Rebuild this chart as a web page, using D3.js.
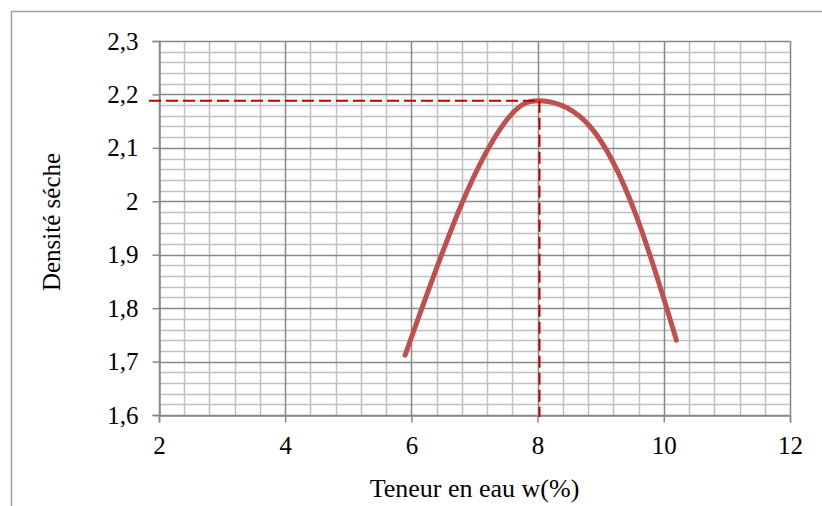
<!DOCTYPE html>
<html>
<head>
<meta charset="utf-8">
<script src="https://cdn.jsdelivr.net/npm/d3@7"></script>
<style>
	body { margin: 0; background: #fff; }
	svg { display: block; }
	svg text { font-family: "Liberation Serif", "Times New Roman", serif; fill: #000; }
</style>
</head>
<body>
<div class="chart"></div>
<script>

var teneur = [5.9, 6.8, 7.51, 8.05, 8.83, 9.57, 10.2];
var densite = [1.712, 1.996, 2.152, 2.188, 2.14, 1.971, 1.74];
var xTicks = [2, 4, 6, 8, 10, 12];
var yTicks = [1.6, 1.7, 1.8, 1.9, 2.0, 2.1, 2.2, 2.3];
var optimum = { w: 8.03, d: 2.188 };

var chart = (function() {

	var width = 822, height = 506;
	var left = 159, right = 790, top = 41, bottom = 415;

	var svg, x, y;

	var init = function() {
		svg = d3.select('.chart')
				.append('svg')
				.attr('width', width)
				.attr('height', height);

		x = d3.scaleLinear().domain([2, 12]).range([left, right]);
		y = d3.scaleLinear().domain([1.6, 2.3]).range([bottom, top]);

		drawFrame();
		drawGrid();
		drawAxes();
		drawCurve();
		drawOptimum();
		drawTitles();
	}

	var drawFrame = function() {
		svg.append('line')
			.attr('x1', 11).attr('x2', width)
			.attr('y1', 11.5).attr('y2', 11.5)
			.attr('stroke', '#a0a0a0').attr('stroke-width', 1.5);
		svg.append('line')
			.attr('x1', 11.5).attr('x2', 11.5)
			.attr('y1', 11).attr('y2', height)
			.attr('stroke', '#a0a0a0').attr('stroke-width', 1.5);
	}

	var drawGrid = function() {
		// minor lines : 0.4 in x, 0.02 in y
		var minorX = d3.range(2, 12.001, 0.4).filter(function(d) { return Math.abs(d / 2 - Math.round(d / 2)) > 0.01; });
		var minorY = d3.range(1.6, 2.3001, 0.02).filter(function(d) { return Math.abs(d * 10 - Math.round(d * 10)) > 0.01; });

		var grid = svg.append('g');

		grid.selectAll('.minx').data(minorX).enter()
			.append('line')
			.attr('x1', function(d) { return Math.round(x(d)) + 0.5; })
			.attr('x2', function(d) { return Math.round(x(d)) + 0.5; })
			.attr('y1', top).attr('y2', bottom)
			.attr('stroke', '#c0c0c0').attr('stroke-width', 1.5);

		grid.selectAll('.miny').data(minorY).enter()
			.append('line')
			.attr('x1', left).attr('x2', right)
			.attr('y1', function(d) { return Math.round(y(d)) + 0.5; })
			.attr('y2', function(d) { return Math.round(y(d)) + 0.5; })
			.attr('stroke', '#c0c0c0').attr('stroke-width', 1.5);

		grid.selectAll('.majx').data(xTicks).enter()
			.append('line')
			.attr('x1', function(d) { return Math.round(x(d)) + 0.5; })
			.attr('x2', function(d) { return Math.round(x(d)) + 0.5; })
			.attr('y1', top).attr('y2', bottom)
			.attr('stroke', '#888').attr('stroke-width', 1.5);

		grid.selectAll('.majy').data(yTicks).enter()
			.append('line')
			.attr('x1', left).attr('x2', right)
			.attr('y1', function(d) { return Math.round(y(d)) + 0.5; })
			.attr('y2', function(d) { return Math.round(y(d)) + 0.5; })
			.attr('stroke', '#888').attr('stroke-width', 1.5);
	}

	var drawAxes = function() {
		var fmt = function(d) { return String(+d.toFixed(1)).replace('.', ','); };

		var xAxis = svg.append('g')
			.attr('transform', 'translate(0,' + (bottom + 0.5) + ')')
			.call(d3.axisBottom(x).tickValues(xTicks).tickSize(7).tickPadding(14).tickFormat(fmt));

		var yAxis = svg.append('g')
			.attr('transform', 'translate(' + (left + 0.5) + ',0)')
			.call(d3.axisLeft(y).tickValues(yTicks).tickSize(7).tickPadding(14).tickFormat(fmt));

		[xAxis, yAxis].forEach(function(a) {
			a.attr('font-family', '"Liberation Serif", serif').attr('font-size', 25);
			a.select('.domain').attr('stroke', '#888').attr('stroke-width', 1.5);
			a.selectAll('.tick line').attr('stroke', '#888').attr('stroke-width', 1.5);
			a.selectAll('.tick text').attr('fill', '#000');
		});
	}

	var drawCurve = function() {
		var pts = teneur.map(function(w, i) { return [w, densite[i]]; });

		var line = d3.line()
			.x(function(d) { return x(d[0]); })
			.y(function(d) { return y(d[1]); })
			.curve(d3.curveNatural);

		svg.append('path')
			.datum(pts)
			.attr('d', line)
			.attr('fill', 'none')
			.attr('stroke', '#c0504d')
			.attr('stroke-width', 5)
			.attr('stroke-linecap', 'round')
			.attr('stroke-linejoin', 'round');
	}

	var drawOptimum = function() {
		svg.append('line')
			.attr('x1', left - 10).attr('x2', x(optimum.w))
			.attr('y1', y(optimum.d)).attr('y2', y(optimum.d))
			.attr('stroke', '#c00000').attr('stroke-width', 2)
			.attr('stroke-dasharray', '12,5');

		svg.append('line')
			.attr('x1', x(optimum.w)).attr('x2', x(optimum.w))
			.attr('y1', y(optimum.d)).attr('y2', bottom + 2)
			.attr('stroke', '#c00000').attr('stroke-width', 2)
			.attr('stroke-dasharray', '12,5');
	}

	var drawTitles = function() {
		svg.append('text')
			.attr('x', (left + right) / 2)
			.attr('y', 497)
			.attr('text-anchor', 'middle')
			.attr('font-size', 26)
			.text('Teneur en eau w(%)');

		svg.append('text')
			.attr('transform', 'translate(60,' + ((top + bottom) / 2 - 6) + ') rotate(-90)')
			.attr('text-anchor', 'middle')
			.attr('font-size', 25)
			.text('Densité séche');
	}

	return {
		'init': init
	}

})();

chart.init();
</script>
</body>
</html>
